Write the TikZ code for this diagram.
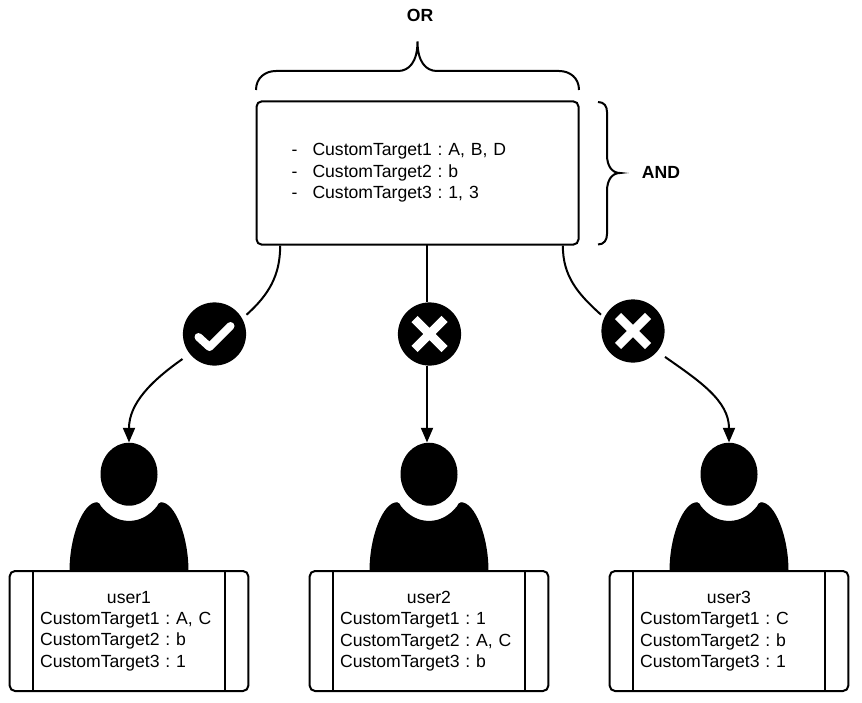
\documentclass[tikz,border=0pt]{standalone}
\usepackage{fontspec}
\setmainfont{Liberation Sans}
\usetikzlibrary{positioning}
\usetikzlibrary{shapes.geometric}
\usetikzlibrary{arrows.meta}

\begin{document}
\frenchspacing
\begin{tikzpicture}
[
x=0.75pt, y=0.75pt,
font=\fontsize{13.2}{16.1}\selectfont,
line/.style={line width=1.5pt},
arrow/.style={line, -{Triangle[length=11pt, width=9pt]}},
rule-box/.style={rectangle, draw, line width=1.5pt, rounded corners=4pt, minimum width=241.5pt, minimum height=107.5pt, text width=189pt, align=left},
user/.style={rectangle, draw, line width=1.5pt, rounded corners=4pt, minimum height=90pt, inner xsep=22.9pt, text width=133.2pt, align=left},
mark-a/.style={rectangle, inner sep=0pt, outer sep=0pt, minimum size=48pt, path picture={\fill (path picture bounding box.center) circle (23.7pt);}},
tick/.style={draw=white, line width=6pt, line cap=round, line join=round},
cross/.style={draw=white, line width=6.5pt},
head/.style={ellipse, fill=black, inner sep=0pt, minimum width=42.75pt, minimum height=47.25pt},
text-a/.style={font=\fontsize{13.2}{16.1}\selectfont\bfseries},
body/.pic={\fill (-59.5,-97) .. controls (-59.5,-62) and (-46,-28) .. (-32,-28) .. controls (-30,-28) and (-29,-30) .. (-28,-32) .. controls (-21,-41) and (-11,-46.7) .. (0,-46.7) .. controls (11,-46.7) and (21,-41) .. (28,-32) .. controls (29,-30) and (30,-28) .. (32,-28) .. controls (46,-28) and (59.5,-62) .. (59.5,-97) -- cycle;},
]
\useasboundingbox (0,0) rectangle (862,-702);

\node (main)  [rule-box] at (417.5,-173) {\makebox[15.75pt][l]{-}CustomTarget1 : A, B, D\\ \makebox[15.75pt][l]{-}CustomTarget2 : b\\ \makebox[15.75pt][l]{-}CustomTarget3 : 1, 3};
\node (orl)   [text-a] at (420,-15)  {OR};
\node (andl)  [text-a] at (661,-172) {AND};

\node (user1) [user] at (129,-631) {\hfil user1\hfil\\ CustomTarget1 : A, C\\ CustomTarget2 : b\\ CustomTarget3 : 1};
\node (user2) [user] at (429,-631) {\hfil user2\hfil\\ CustomTarget1 : 1\\ CustomTarget2 : A, C\\ CustomTarget3 : b};
\node (user3) [user] at (729,-631) {\hfil user3\hfil\\ CustomTarget1 : C\\ CustomTarget2 : b\\ CustomTarget3 : 1};

\node (head1) [head, above = 48pt of user1] {};
\node (head2) [head, above = 48pt of user2] {};
\node (head3) [head, above = 48pt of user3] {};
\pic at (head1) {body};
\pic at (head2) {body};
\pic at (head3) {body};

\node (ok1)   [mark-a] at (214.5,-334) {};
\node (no1)   [mark-a] at (429.5,-334) {};
\node (no2)   [mark-a] at (633,-331)   {};
\draw [tick, shift={(ok1)}]  (-16,-3) -- (-5,-13) -- (16,8);
\draw [cross, shift={(no1)}] (-15,15) -- (15,-15) (-15,-15) -- (15,15);
\draw [cross, shift={(no2)}] (-15,15) -- (15,-15) (-15,-15) -- (15,15);

% side bars of the user boxes
\draw [line] ([xshift=18pt]user1.north west) -- ([xshift=18pt]user1.south west);
\draw [line] ([xshift=-18pt]user1.north east) -- ([xshift=-18pt]user1.south east);
\draw [line] ([xshift=18pt]user2.north west) -- ([xshift=18pt]user2.south west);
\draw [line] ([xshift=-18pt]user2.north east) -- ([xshift=-18pt]user2.south east);
\draw [line] ([xshift=18pt]user3.north west) -- ([xshift=18pt]user3.south west);
\draw [line] ([xshift=-18pt]user3.north east) -- ([xshift=-18pt]user3.south east);

\coordinate (out1) at ([xshift=18.5pt]main.south west);
\coordinate (out2) at (427,-244);
\coordinate (out3) at ([xshift=-12.5pt]main.south east);
\draw [line]  (out1) to [out=-90, in=42] (ok1.31);
\draw [line]  (out2) -- (out2 |- no1.north);
\draw [line]  (out3) to [out=-90, in=138] (no2.153);
\draw [arrow] (ok1.218) to [out=215, in=90] (head1.north);
\draw [arrow] (out2 |- no1.south) -- (out2 |- head2.north);
\draw [arrow] (no2.321) to [out=-35, in=90] (head3.north);

% braces
\draw [line] (256,-90) .. controls (256,-78) and (265,-71) .. (276,-71) -- (398,-71) .. controls (409,-71) and (417.5,-62) .. (417.5,-41.5) .. controls (417.5,-62) and (426,-71) .. (437,-71) -- (559,-71) .. controls (570,-71) and (579,-78) .. (579,-90);
\draw [line] (598,-102) .. controls (604,-102) and (607,-106) .. (607,-112) -- (607,-155) .. controls (607,-166) and (612,-173) .. (620,-173) .. controls (612,-173) and (607,-180) .. (607,-191) -- (607,-234) .. controls (607,-240) and (604,-244.5) .. (598,-244.5);
\end{tikzpicture}
\end{document}
